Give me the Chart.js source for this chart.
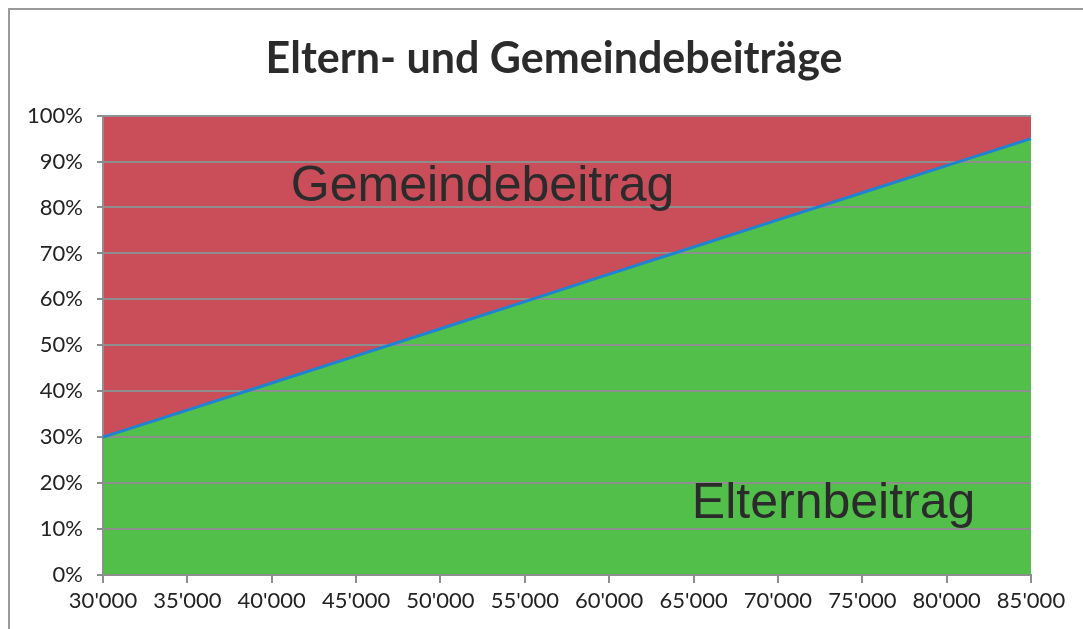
<!DOCTYPE html>
<html>
<head>
<meta charset="utf-8">
<script src="https://cdn.jsdelivr.net/npm/chart.js@4"></script>
<style>
  html, body { margin: 0; padding: 0; background: #fff; }
  #wrap { position: relative; width: 1083px; height: 629px; overflow: hidden; }
  #frame { position: absolute; left: 8px; top: 8px; width: 1100px; height: 700px;
           border-left: 2px solid #9a9a9a; border-top: 2px solid #9a9a9a; }
  canvas { position: absolute; left: 0; top: 0; }
</style>
</head>
<body>
<div id="wrap">
  <div id="frame"></div>
  <canvas id="chart" width="1083" height="629"></canvas>
</div>
<script>
var einkommen = ["30'000", "35'000", "40'000", "45'000", "50'000", "55'000",
	"60'000", "65'000", "70'000", "75'000", "80'000", "85'000"];
var elternbeitrag = [30, 35.9, 41.8, 47.7, 53.6, 59.5, 65.5, 71.4, 77.3, 83.2, 89.1, 95];
var gesamt = [100, 100, 100, 100, 100, 100, 100, 100, 100, 100, 100, 100];
var titel = "Eltern- und Gemeindebeiträge";

// Beschriftungen im Diagramm (x als Index auf der Kategorieachse, y in %)
var beschriftungen = [
	{ text: "Gemeindebeitrag", x: 4.5, y: 84.5 },
	{ text: "Elternbeitrag", x: 8.66, y: 15.3 }
];

var labelPlugin = {
	id: 'flaechenText',
	afterDatasetsDraw: function(chart) {
		var ctx = chart.ctx;
		var xs = chart.scales.x, ys = chart.scales.y;
		ctx.save();
		ctx.font = '50px "Liberation Sans", Arial, sans-serif';
		ctx.fillStyle = '#2b2b2b';
		ctx.textAlign = 'center';
		ctx.textBaseline = 'middle';
		for (var i = 0; i < beschriftungen.length; i++) {
			var b = beschriftungen[i];
			ctx.fillText(b.text, xs.getPixelForValue(b.x), ys.getPixelForValue(b.y));
		}
		ctx.restore();
	}
};

var grau = '#8e8e8e';
var ctx = document.getElementById('chart').getContext('2d');
var myChart = new Chart(ctx, {
	type: 'line',
	data: {
		labels: einkommen,
		datasets: [{
			label: 'Elternbeitrag',
			data: elternbeitrag,
			borderColor: '#1f82d2',
			borderWidth: 3,
			backgroundColor: '#53bf4b',
			fill: 'origin',
			pointRadius: 0,
			tension: 0
		}, {
			// Gesamt 100 %, wird zuerst gefüllt und vom Elternbeitrag überdeckt
			label: 'Gemeindebeitrag',
			data: gesamt,
			borderWidth: 0,
			borderColor: '#c94e5a',
			backgroundColor: '#c94e5a',
			fill: 'origin',
			pointRadius: 0
		}]
	},
	options: {
		responsive: false,
		animation: false,
		layout: { padding: { left: 0, right: -25, top: 0, bottom: 0 } },
		plugins: {
			legend: { display: false },
			tooltip: { enabled: false },
			// Flächen zuerst, dann Gitter, dann die Linie
			filler: { drawTime: 'beforeDraw' },
			title: {
				display: true,
				text: titel,
				color: '#2b2b2b',
				font: { family: 'Lato', size: 43, weight: 'bold', lineHeight: 1.2 },
				padding: { top: 33, bottom: 31 }
			}
		},
		scales: {
			x: {
				offset: false,
				grid: { drawOnChartArea: false, drawTicks: true, tickLength: 8, color: grau, lineWidth: 2 },
				border: { color: grau, width: 2 },
				ticks: { color: '#222', font: { family: 'Lato', size: 22 }, padding: 5, maxRotation: 0, autoSkip: false },
				afterFit: function(s) { s.height = 54; }
			},
			y: {
				min: 0,
				max: 100,
				grid: { color: grau, lineWidth: 2, tickLength: 6 },
				border: { color: grau, width: 2 },
				ticks: {
					stepSize: 10,
					color: '#222',
					font: { family: 'Lato', size: 22 },
					padding: 14,
					callback: function(v) { return v + '%'; }
				},
				afterFit: function(s) { s.width = 103; }
			},
			rechts: {
				position: 'right',
				grid: { display: false },
				border: { display: false },
				ticks: { display: false },
				afterFit: function(s) { s.width = 77; }
			}
		}
	},
	plugins: [labelPlugin]
});
</script>
</body>
</html>
